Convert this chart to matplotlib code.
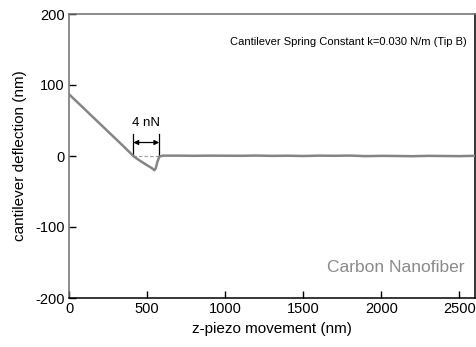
import numpy as np
import matplotlib
matplotlib.use('Agg')
import matplotlib.pyplot as plt

plt.rcParams['font.family'] = ['Liberation Sans', 'DejaVu Sans']
plt.rcParams['axes.unicode_minus'] = False

# z-piezo movement (nm) and cantilever deflection (nm)
z_nm = [0, 50, 100, 150, 200, 250, 300, 350, 412, 450, 500, 530, 547, 556,
        565, 578, 600, 700, 800, 900, 1000, 1100, 1200, 1300, 1400, 1500,
        1600, 1700, 1800, 1900, 2000, 2100, 2200, 2300, 2400, 2500, 2600]
deflection_nm = [87, 76.5, 66, 55.5, 45, 34.5, 24, 13.5, 0, -6, -13, -17, -20, -17,
                 -9, -1, 0.5, 0.5, 0.3, 0.5, 0.4, 0.3, 0.6, 0.2, 0.4, 0.0,
                 0.5, 0.3, 0.6, -0.2, 0.2, 0.0, -0.3, 0.2, 0.0, -0.2, 0.3]

# force bracket ends (nm)
bracket_x = [412, 578]
xticks = [0, 500, 1000, 1500, 2000, 2500]
yticks = [-200, -100, 0, 100, 200]

fig = plt.figure(figsize=(4.76, 3.47), dpi=100)
ax = fig.add_axes([69/476, 1 - 298/347, 406/476, 284/347])

ax.plot(z_nm, deflection_nm, color='#858585', lw=1.8, zorder=3)

# dashed zero reference and 4 nN bracket
ax.plot(bracket_x, [0, 0], color='#999999', lw=0.8, ls=(0, (3, 2)), zorder=2)
for bx in bracket_x:
    ax.plot([bx, bx], [0, 31], color='black', lw=0.9)
for bx in bracket_x:
    ax.annotate('', xy=(bx, 19), xytext=(495, 19),
                arrowprops=dict(arrowstyle='-|>', color='black', lw=0.9,
                                mutation_scale=7, shrinkA=0, shrinkB=0))
ax.text(495, 38, '4 nN', ha='center', va='bottom', fontsize=9.5)

ax.text(0.98, 0.90, 'Cantilever Spring Constant k=0.030 N/m (Tip B)',
        transform=ax.transAxes, ha='right', va='center', fontsize=8)
ax.text(0.975, 0.106, 'Carbon Nanofiber', transform=ax.transAxes,
        ha='right', va='center', fontsize=12.5, color='#8a8a8a')

ax.set_xlim(0, 2600)
ax.set_ylim(-200, 200)
ax.set_xticks(xticks)
ax.set_yticks(yticks)
ax.tick_params(direction='in', length=5, width=1, labelsize=10.5,
               top=False, right=False, pad=3)
ax.set_xlabel('z-piezo movement (nm)', fontsize=11)
ax.set_ylabel('cantilever deflection (nm)', fontsize=11, labelpad=6)

for side in ['left', 'top']:
    ax.spines[side].set_color('#6e6e6e')
for side in ['bottom', 'right']:
    ax.spines[side].set_color('black')
for s in ax.spines.values():
    s.set_linewidth(1.1)

fig.savefig('out.png', dpi=100)
